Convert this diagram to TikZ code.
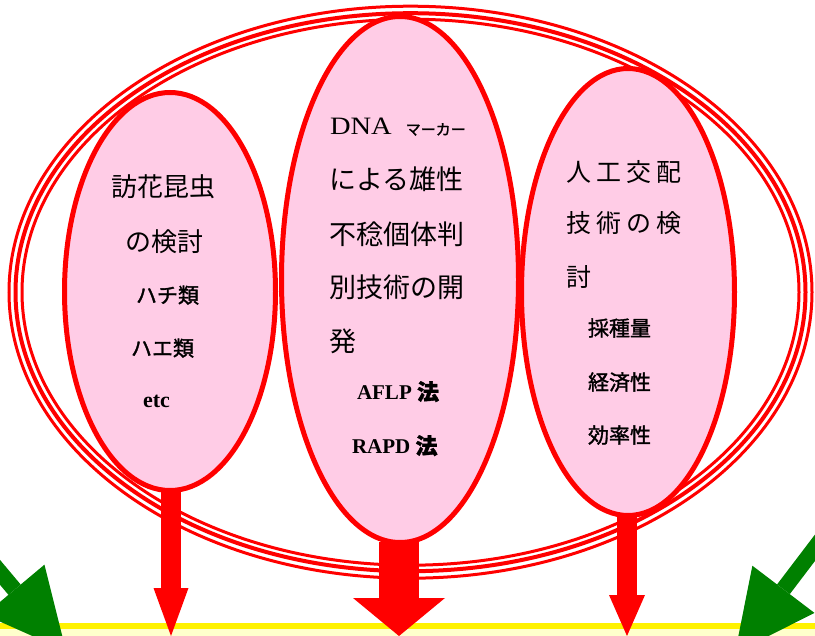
\documentclass[tikz,border=0pt]{standalone}
\usepackage{fontspec}
\usepackage{graphicx}
\setmainfont{Liberation Serif}
\newfontfamily\jp{Noto Sans CJK JP}
\newfontfamily\jpb[FakeBold=1.5]{Noto Sans CJK JP}
\usetikzlibrary{shapes.geometric,arrows.meta}
\definecolor{pinkfill}{HTML}{FFCCE6}
\definecolor{paleyel}{HTML}{FFFFCC}
\definecolor{darkgreen}{HTML}{008000}
\newcommand\gapR{\hspace{5pt}}
\tikzset{
  oval/.style={ellipse, draw=red, fill=pinkfill, line width=5pt, inner sep=0pt, outer sep=0pt},
  ring/.style={ellipse, draw=red, inner sep=0pt, outer sep=0pt},
  txt/.style={inner sep=0pt, outer sep=0pt, anchor=base west},
  ttlA/.style={txt, font=\jp\fontsize{26}{26}\selectfont},
  ttlB/.style={txt, font=\jp\fontsize{27}{27}\selectfont},
  ttlC/.style={txt, font=\jp\fontsize{25}{25}\selectfont},
  subj/.style={txt, font=\jpb\fontsize{21}{21}\selectfont},
  subl/.style={txt, font=\bfseries\fontsize{21}{21}\selectfont},
  redarrow/.style={draw=red, line width=#1},
  greenarrow/.style={draw=darkgreen, line width=16pt,
    -{Triangle[length=80pt 0 0, width=78pt 0 0, line width=0pt 0 0]}}
}
\begin{document}
\begin{tikzpicture}[x=1pt,y=-1pt]
\useasboundingbox (0,0) rectangle (815,636);
\clip (0,0) rectangle (815,636);
% ground band
\fill[paleyel] (0,623) rectangle (815,636);
\fill[yellow] (0,623) rectangle (815,629);
% triple ellipse
\node[ring, line width=3pt, minimum width=803pt, minimum height=572pt] (ringA) at (410.5,292.2) {};
\node[ring, line width=4pt, minimum width=790pt, minimum height=558pt] (ringB) at (410.5,292.2) {};
\node[ring, line width=3pt, minimum width=777pt, minimum height=546pt] (ringC) at (410.5,292.2) {};
% pink ellipses
\node[oval, minimum width=211pt, minimum height=398pt] (L) at (170,291.5) {};
\node[oval, minimum width=237pt, minimum height=526pt] (M) at (400,279.5) {};
\node[oval, minimum width=213pt, minimum height=447pt] (R) at (628,292) {};
% left texts
\node[ttlA] (l1) at (111,197) {訪花昆虫};
\node[ttlA] (l2) at (125,252) {の検討};
\node[subj] (l3) at (136,303) {ハチ類};
\node[subj] (l4) at (131,356) {ハエ類};
\node[txt, font=\bfseries\fontsize{22}{22}\selectfont] (l5) at (143,408) {etc};
% middle texts
\node[txt] (m1) at (330,135) {\fontsize{25}{25}\selectfont\scalebox{1.14}[1]{DNA}\hspace{14pt}{\jpb\fontsize{15}{15}\selectfont マーカー}};
\node[ttlB] (m2) at (329,190) {による雄性};
\node[ttlB] (m3) at (329,245) {不稔個体判};
\node[ttlB] (m4) at (329,298) {別技術の開};
\node[ttlB] (m5) at (329,352) {発};
\node[subl] (m6) at (357,400) {AFLP {\jpb\fontsize{22}{22}\selectfont 法}};
\node[subl] (m7) at (352,454) {RAPD {\jpb\fontsize{22}{22}\selectfont 法}};
% right texts
\node[ttlC] (r1) at (566,182) {人\gapR 工\gapR 交\gapR 配};
\node[ttlC] (r2) at (566,233) {技\gapR 術\gapR の\gapR 検};
\node[ttlC] (r3) at (566,287) {討};
\node[subj] (r4) at (588,336) {採種量};
\node[subj] (r5) at (588,390) {経済性};
\node[subj] (r6) at (588,443) {効率性};
% red arrows
\coordinate (tipL) at (171,636);
\coordinate (tipM) at (399,636);
\coordinate (tipR) at (627,636);
\draw[redarrow=20pt, -{Triangle[length=48pt 0 0, width=35pt 0 0, line width=0pt 0 0]}] (L.south -| tipL) -- (tipL);
\draw[redarrow=40pt, -{Triangle[length=38pt 0 0, width=92pt 0 0, line width=0pt 0 0]}] (M.south -| tipM) -- (tipM);
\draw[redarrow=20pt, -{Triangle[length=41pt 0 0, width=36pt 0 0, line width=0pt 0 0]}] (R.south -| tipR) -- (tipR);
% green arrows
\coordinate (gs1) at (-49.7,513.1);
\coordinate (gt1) at (66,651);
\coordinate (gs2) at (843.9,509.7);
\coordinate (gt2) at (735,653);
\draw[greenarrow] (gs1) -- (gt1);
\draw[greenarrow] (gs2) -- (gt2);
\end{tikzpicture}
\end{document}
